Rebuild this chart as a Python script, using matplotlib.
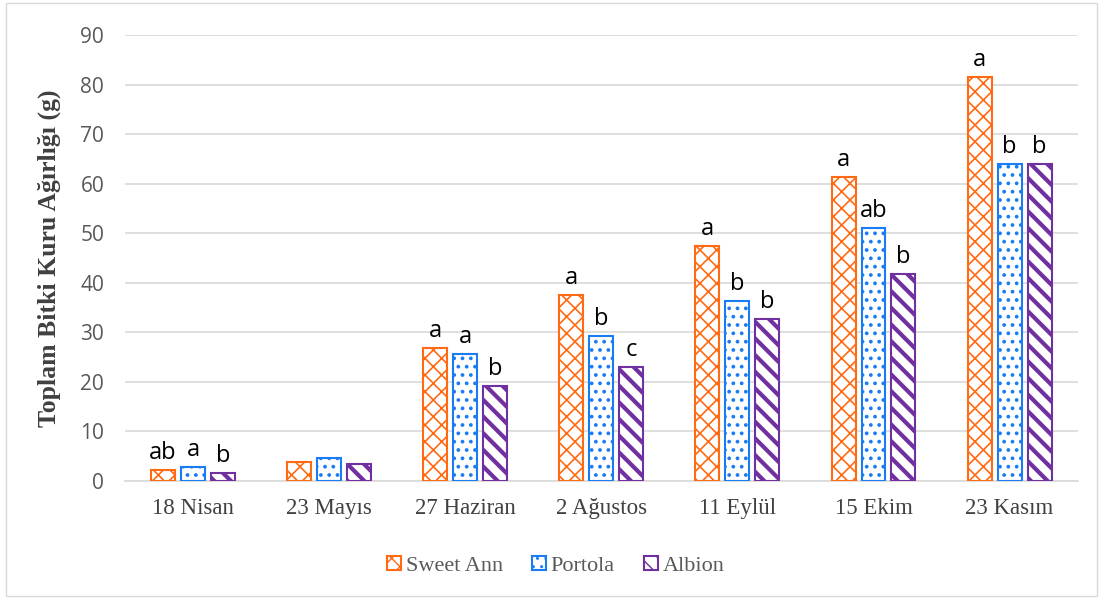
import matplotlib.pyplot as plt
import numpy as np
from matplotlib.patches import Rectangle

categories = ["18 Nisan", "23 Mayıs", "27 Haziran", "2 Ağustos", "11 Eylül", "15 Ekim", "23 Kasım"]
sweet_ann = [2.2, 3.8, 26.8, 37.5, 47.4, 61.3, 81.5]
portola = [2.8, 4.6, 25.6, 29.3, 36.3, 51.0, 64.0]
albion = [1.6, 3.4, 19.2, 23.0, 32.7, 41.8, 64.0]
letters_sa = ["ab", "", "a", "a", "a", "a", "a"]
letters_po = ["a", "", "a", "b", "b", "ab", "b"]
letters_al = ["b", "", "b", "c", "b", "b", "b"]
series_names = ["Sweet Ann", "Portola", "Albion"]
yticks = [0, 10, 20, 30, 40, 50, 60, 70, 80, 90]

colors = ["#FF6A13", "#1A7CF5", "#7030A0"]
hatches = ["xx", "..", "\\\\"]
hlw = [1.2, 1.5, 3.0]

fig = plt.figure(figsize=(11.03, 5.99), dpi=100)
ax = fig.add_axes([0.1133, 0.197, 0.977 - 0.1133, 0.9416 - 0.197])

x = np.arange(len(categories))
w = 0.176
off = 0.22
data = [sweet_ann, portola, albion]
lets = [letters_sa, letters_po, letters_al]
handles = []
for i, (vals, c, h, lw) in enumerate(zip(data, colors, hatches, hlw)):
    bars = ax.bar(x + (i - 1) * off, vals, width=w, facecolor="white", edgecolor=c,
                  hatch=h, linewidth=1.5, label=series_names[i], zorder=3)
    for b in bars:
        try:
            b.set_hatch_linewidth(lw)
        except Exception:
            pass
    handles.append(bars)
    for xi, v, t in zip(x + (i - 1) * off, vals, lets[i]):
        if t:
            ax.text(xi, v + 1.0, t, ha="center", va="bottom", fontsize=17,
                    family="Open Sans", color="black")

ax.set_xlim(-0.5, len(categories) - 0.5)
ax.set_ylim(0, 90)
ax.set_yticks(yticks)
ax.set_xticks(x)
ax.set_xticklabels(categories, family="Liberation Serif", fontsize=16.5, color="#404040")
for lab in ax.get_yticklabels():
    lab.set_family("Open Sans")
    lab.set_fontsize(15)
    lab.set_color("#595959")
ax.tick_params(axis="y", length=0, pad=15)
ax.tick_params(axis="x", length=0, pad=12)
ax.yaxis.grid(True, color="#D9D9D9", linewidth=1.2, zorder=0)
ax.set_axisbelow(True)
for s in ["top", "right", "left"]:
    ax.spines[s].set_visible(False)
ax.spines["bottom"].set_color("#D9D9D9")
ax.spines["bottom"].set_linewidth(1.2)
ax.set_ylabel("Toplam Bitki Kuru Ağırlığı (g)", family="Liberation Serif",
              fontweight="bold", fontsize=18.5, color="#404040", labelpad=14)

leg = ax.legend(handles=handles, loc="center", bbox_to_anchor=(0.452, -0.19),
                ncol=3, frameon=False, prop={"family": "Liberation Serif", "size": 16},
                handlelength=0.65, handleheight=0.65, handletextpad=0.2, columnspacing=1.3)
for t in leg.get_texts():
    t.set_color("#595959")

fig.patches.append(Rectangle((0.005, 0.005), 0.99, 0.99, transform=fig.transFigure,
                             fill=False, edgecolor="#D9D9D9", linewidth=1))
fig.savefig("out.png", dpi=100)
